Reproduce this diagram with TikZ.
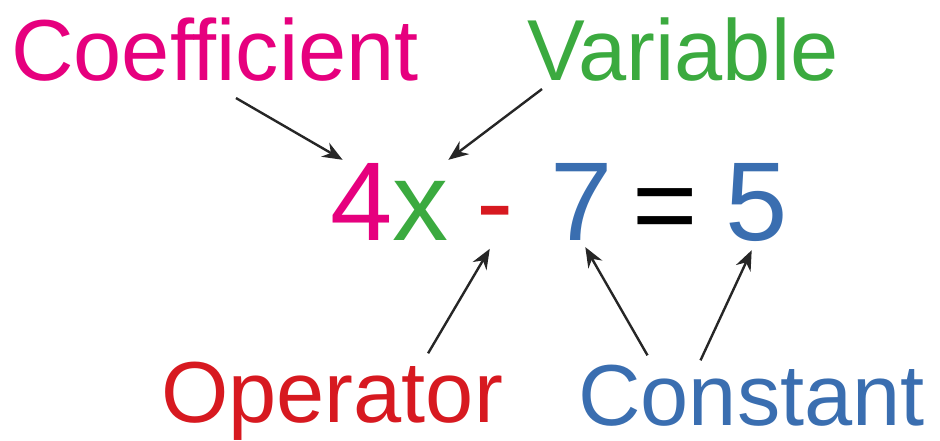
\documentclass[tikz,border=0pt]{standalone}
\usepackage{fontspec}
\setmainfont{Liberation Sans}
\usetikzlibrary{arrows.meta}
\definecolor{coefpink}{HTML}{E6007E}
\definecolor{vargreen}{HTML}{3BAA3F}
\definecolor{oprred}{HTML}{D71920}
\definecolor{constblue}{HTML}{3A6EB0}

\begin{document}
\begin{tikzpicture}[x=1pt,y=-1pt,
    lbl/.style={inner sep=0pt,anchor=base west,font=\fontsize{86.6pt}{90pt}\selectfont},
    eqn/.style={inner sep=0pt,anchor=base west,text height=80pt,text depth=0pt,font=\fontsize{112pt}{120pt}\selectfont},
    arr/.style={-{Stealth[length=20pt,width=16pt]},line width=2.4pt,black!85}]

      \useasboundingbox (0,0) rectangle (940,440);

      % labels
      \node[lbl,text=coefpink] (coef) at (11,80) {Coefficient};
      \node[lbl,text=vargreen] (var) at (527,80) {Variable};
      \node[lbl,text=oprred] (opr) at (161,422) {Operator};
      \node[lbl,text=constblue] (const) at (578,425) {Constant};

      % the equation
      \node[eqn,text=coefpink] (four) at (330,240) {4};
      \node[eqn,text=vargreen] (ex) at (392,240) {x};
      \node[eqn,text=oprred] (minus) at (476,240) {-};
      \node[eqn,text=constblue] (seven) at (550,240) {7};
      \node[eqn] (equals) at (632,243) {=};
      \node[eqn,text=constblue] (five) at (725,240) {5};

      % arrows
      \draw[arr] ([xshift=21pt,yshift=-17pt]coef.south) -- (four.115);
      \draw[arr] ([xshift=15pt,yshift=-8pt]var.south west) -- (ex.north east);
      \draw[arr,shorten >=10pt] ([xshift=96pt,yshift=8pt]opr.north) -- (minus.south);
      \draw[arr,shorten >=8pt] ([xshift=-104pt,yshift=9pt]const.north) -- (seven.south);
      \draw[arr,shorten >=11pt] ([xshift=-51pt,yshift=4pt]const.north) -- (five.south);

\end{tikzpicture}
\end{document}
